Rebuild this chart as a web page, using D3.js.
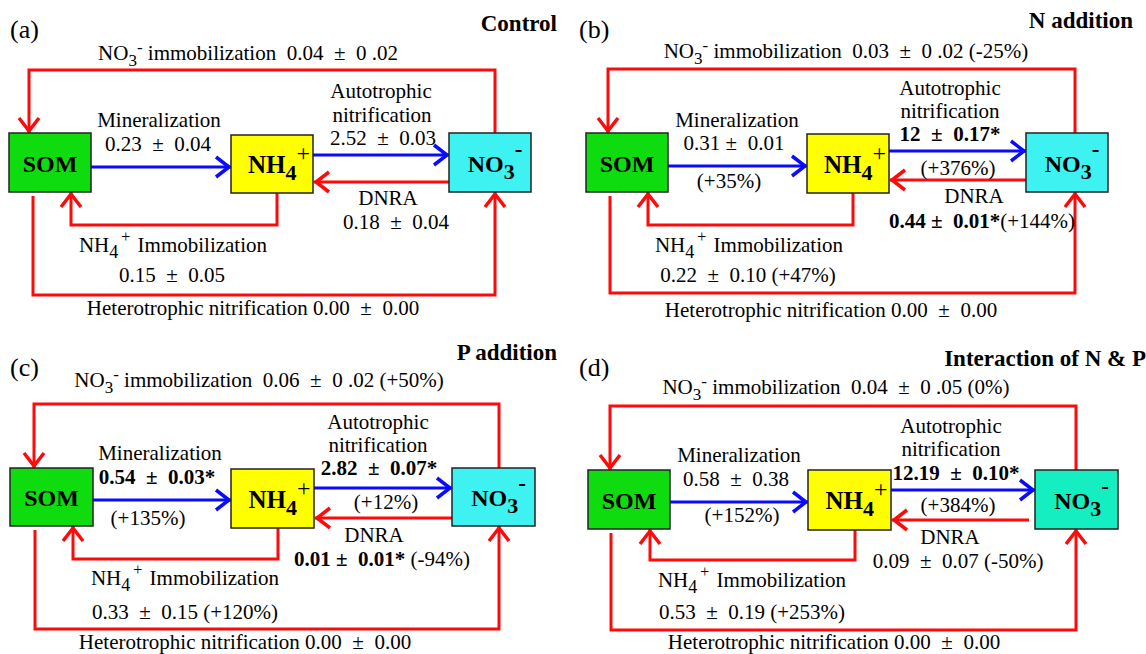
<!DOCTYPE html>
<html>
<head>
<meta charset="utf-8">
<script src="https://cdn.jsdelivr.net/npm/d3@7"></script>
<style>
  html, body { margin: 0; padding: 0; background: #fff; }
  svg text { white-space: pre; fill: #000; }
</style>
</head>
<body>
<svg id="chart" width="1146" height="654"></svg>
<script>
// Panel tags and treatments
const panelTags = ["(a)", "(b)", "(c)", "(d)"];
const treatments = ["Control", "N addition", "P addition", "Interaction of N & P"];

// Gross N transformation rates (mean ± SE); "*" marks a significant change vs. the control
const no3Immobilization = ["0.04  ±  0 .02", "0.03  ±  0 .02", "0.06  ±  0 .02", "0.04  ±  0 .05"];
const no3ImmobilizationChange = ["", " (-25%)", " (+50%)", " (0%)"];
const mineralization = ["0.23  ±  0.04", "0.31 ±  0.01", "0.54  ±  0.03*", "0.58  ±  0.38"];
const mineralizationChange = ["", "(+35%)", "(+135%)", "(+152%)"];
const autotrophicNitrification = ["2.52  ±  0.03", "12  ±  0.17*", "2.82  ±  0.07*", "12.19  ±  0.10*"];
const autotrophicNitrificationChange = ["", "(+376%)", "(+12%)", "(+384%)"];
const dnra = ["0.18  ±  0.04", "0.44 ±  0.01*", "0.01 ±  0.01*", "0.09  ±  0.07"];
const dnraChange = ["", "(+144%)", " (-94%)", " (-50%)"];
const nh4Immobilization = ["0.15  ±  0.05", "0.22  ±  0.10", "0.33  ±  0.15", "0.53  ±  0.19"];
const nh4ImmobilizationChange = ["", " (+47%)", " (+120%)", " (+253%)"];
const heterotrophicNitrification = ["0.00  ±  0.00", "0.00  ±  0.00", "0.00  ±  0.00", "0.00  ±  0.00"];

// Geometry of each panel (boxes as [x0, y0, x1, y1])
const layout = [
  { som: [9,133,91,192], nh4: [231,135,313,193], no3: [449,133,531,192], no3Fill: "#3ef2f2",
    topY: 70, leftX: 29, rightX: 495, minY: 167, autoY: 155, dnraY: 182, dnraX: null,
    immX: 277, immY: 225, immLeft: 71, hetX: 33, hetY: 295, hetRight: 495,
    tag: [10,38], title: [557,31], no3Imm: [248,60],
    minL: [159,127], minV: [158,151], minP: null,
    autoL: [381,98], autoL2: [382,122], autoV: [383,145], autoP: null,
    dnraL: [388,205], dnraV: [396,229],
    immL: [173,252], immV: [172,282], het: [253,315] },
  { som: [586,133,668,192], nh4: [807,134,889,193], no3: [1026,133,1108,192], no3Fill: "#3ef2f2",
    topY: 69, leftX: 608, rightX: 1075, minY: 166, autoY: 151, dnraY: 180, dnraX: null,
    immX: 853, immY: 225, immLeft: 648, hetX: 610, hetY: 293, hetRight: 1075,
    tag: [579,38], title: [1133,28], no3Imm: [846,58],
    minL: [737,127], minV: [734,150], minP: [729,188],
    autoL: [950,95], autoL2: [950,118], autoV: [950,141], autoP: [958,175],
    dnraL: [974,203], dnraV: [982,228],
    immL: [749,252], immV: [748,282], het: [831,317] },
  { som: [10,468,93,526], nh4: [231,469,314,528], no3: [452,468,535,526], no3Fill: "#3ef2f2",
    topY: 404, leftX: 34, rightX: 499, minY: 500, autoY: 488, dnraY: 518, dnraX: null,
    immX: 278, immY: 559, immLeft: 73, hetX: 35, hetY: 629, hetRight: 499,
    tag: [10,376], title: [557,360], no3Imm: [259,387],
    minL: [160,460], minV: [157,484], minP: [148,525],
    autoL: [378,429], autoL2: [378,452], autoV: [379,475], autoP: [386,509],
    dnraL: [374,542], dnraV: [382,566],
    immL: [185,585], immV: [185,619], het: [245,649] },
  { som: [588,470,670,529], nh4: [808,470,891,530], no3: [1035,470,1118,529], no3Fill: "#14eec0",
    topY: 406, leftX: 610, rightX: 1076, minY: 502, autoY: 490, dnraY: 520, dnraX: 1029,
    immX: 855, immY: 560, immLeft: 650, hetX: 611, hetY: 630, hetRight: 1076,
    tag: [579,376], title: [1146,366], no3Imm: [836,394],
    minL: [739,462], minV: [736,486], minP: [742,522],
    autoL: [951,433], autoL2: [951,456], autoV: [956,480], autoP: [958,512],
    dnraL: [950,544], dnraV: [958,568],
    immL: [752,587], immV: [752,619], het: [834,649] }
];

const RED = "#ff0a0a", BLUE = "#0a0aff";
const FS = 21;
const FONT = "Liberation Serif";
const svg = d3.select("#chart");
const line = d3.line();

// Multi-part text with sub/superscripts; sub/sup are pixel shifts of the baseline
function rich(g, x, y, parts, anchor = "middle", size = FS) {
  const t = g.append("text").attr("x", x).attr("y", y)
    .attr("font-family", FONT)
    .attr("text-anchor", anchor).attr("font-size", size);
  let shift = 0;
  parts.forEach(p => {
    const target = p.sub ? p.sub : (p.sup ? -p.sup : 0);
    const ts = t.append("tspan").attr("dy", target - shift).text(p.t);
    shift = target;
    if (p.b) ts.attr("font-weight", "bold");
    if (p.fs) ts.attr("font-size", p.fs);
    if (p.dx) ts.attr("dx", p.dx);
  });
  return t;
}

// A rate value: significant values are bold, the change in percent stays regular
function valueParts(v, pct) {
  if (v.endsWith("*")) return pct ? [{ t: v, b: true }, { t: pct }] : [{ t: v, b: true }];
  return [{ t: v + (pct || "") }];
}

// Polyline flux arrow ending in an open chevron
function fluxArrow(g, pts, color) {
  g.append("path").attr("d", line(pts)).attr("fill", "none")
    .attr("stroke", color).attr("stroke-width", 3);
  const [x1, y1] = pts[pts.length - 1], [x0, y0] = pts[pts.length - 2];
  const a = Math.atan2(y1 - y0, x1 - x0);
  const L = 13, W = 10;
  const tx = x1 - 2 * Math.cos(a), ty = y1 - 2 * Math.sin(a);
  const p1 = [tx - L * Math.cos(a) + W * Math.sin(a), ty - L * Math.sin(a) - W * Math.cos(a)];
  const p2 = [tx - L * Math.cos(a) - W * Math.sin(a), ty - L * Math.sin(a) + W * Math.cos(a)];
  g.append("path").attr("d", line([p1, [tx, ty], p2])).attr("fill", "none")
    .attr("stroke", color).attr("stroke-width", 3.5).attr("stroke-linejoin", "miter");
}

function poolBox(g, r, fill) {
  g.append("rect").attr("x", r[0]).attr("y", r[1])
    .attr("width", r[2] - r[0]).attr("height", r[3] - r[1])
    .attr("fill", fill).attr("stroke", "#222").attr("stroke-width", 1.5);
}

layout.forEach((L, i) => {
  const g = svg.append("g").attr("class", "panel");

  // flux pathways
  fluxArrow(g, [[L.rightX, L.no3[1]], [L.rightX, L.topY], [L.leftX, L.topY], [L.leftX, L.som[1]]], RED);
  fluxArrow(g, [[L.som[2], L.minY], [L.nh4[0], L.minY]], BLUE);
  fluxArrow(g, [[L.nh4[2], L.autoY], [L.no3[0], L.autoY]], BLUE);
  fluxArrow(g, [[L.dnraX || L.no3[0], L.dnraY], [L.nh4[2] + 1, L.dnraY]], RED);
  fluxArrow(g, [[L.immX, L.nh4[3]], [L.immX, L.immY], [L.immLeft, L.immY], [L.immLeft, L.som[3]]], RED);
  fluxArrow(g, [[L.hetX, L.som[3] + 4], [L.hetX, L.hetY], [L.hetRight, L.hetY], [L.hetRight, L.no3[3]]], RED);

  // pools
  poolBox(g, L.som, "#0fdc0f");
  poolBox(g, L.nh4, "#ffff00");
  poolBox(g, L.no3, L.no3Fill);
  const cx = (r) => (r[0] + r[2]) / 2, cy = (r) => (r[1] + r[3]) / 2;
  rich(g, cx(L.som), cy(L.som) + 9, [{ t: "SOM", b: true }], "middle", 24);
  rich(g, cx(L.nh4) + 7, cy(L.nh4) + 9,
    [{ t: "NH", b: true }, { t: "4", b: true, sub: 7, fs: 22 }, { t: "+", sup: 12, fs: 24 }], "middle", 25);
  rich(g, cx(L.no3) + 5, cy(L.no3) + 9,
    [{ t: "NO", b: true }, { t: "3", b: true, sub: 7, fs: 22 }, { t: "-", b: true, sup: 15, fs: 23 }], "middle", 24);

  // headings
  rich(g, L.tag[0], L.tag[1], [{ t: panelTags[i] }], "start", 26);
  rich(g, L.title[0], L.title[1], [{ t: treatments[i], b: true }], "end", 23);

  // flux labels
  rich(g, L.no3Imm[0], L.no3Imm[1],
    [{ t: "NO" }, { t: "3", sub: 6, fs: 17 }, { t: "-", sup: 7, fs: 17 },
     { t: " immobilization  " + no3Immobilization[i] + no3ImmobilizationChange[i] }]);

  rich(g, L.minL[0], L.minL[1], [{ t: "Mineralization" }]);
  rich(g, L.minV[0], L.minV[1], valueParts(mineralization[i]));
  if (L.minP) rich(g, L.minP[0], L.minP[1], [{ t: mineralizationChange[i] }]);

  rich(g, L.autoL[0], L.autoL[1], [{ t: "Autotrophic" }]);
  rich(g, L.autoL2[0], L.autoL2[1], [{ t: "nitrification" }]);
  rich(g, L.autoV[0], L.autoV[1], valueParts(autotrophicNitrification[i]));
  if (L.autoP) rich(g, L.autoP[0], L.autoP[1], [{ t: autotrophicNitrificationChange[i] }]);

  rich(g, L.dnraL[0], L.dnraL[1], [{ t: "DNRA" }]);
  rich(g, L.dnraV[0], L.dnraV[1], valueParts(dnra[i], dnraChange[i]));

  rich(g, L.immL[0], L.immL[1],
    [{ t: "NH" }, { t: "4", sub: 6, fs: 18 }, { t: "+", sup: 10, fs: 16, dx: 3 }, { t: " Immobilization", dx: 2 }]);
  rich(g, L.immV[0], L.immV[1], valueParts(nh4Immobilization[i], nh4ImmobilizationChange[i]));

  rich(g, L.het[0], L.het[1], [{ t: "Heterotrophic nitrification " + heterotrophicNitrification[i] }]);
});
</script>
</body>
</html>
